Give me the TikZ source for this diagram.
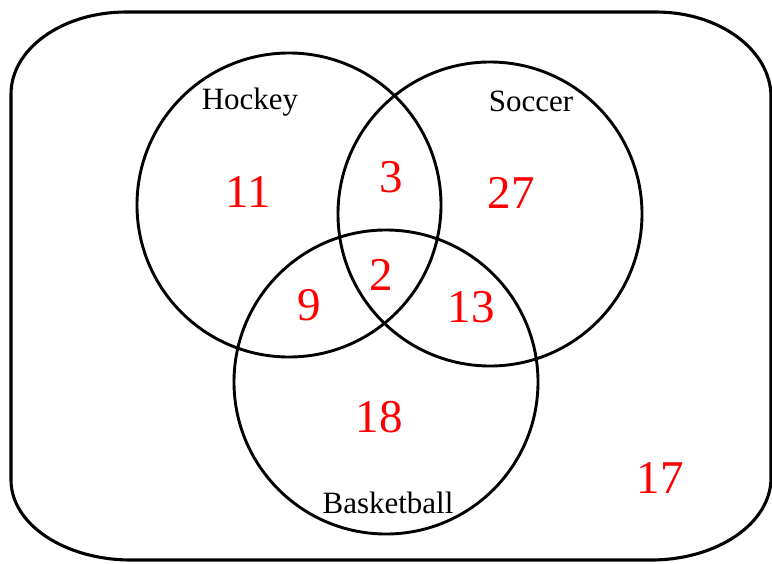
\documentclass[tikz,border=0pt]{standalone}
\usepackage{fontspec}
\setmainfont{Liberation Serif}
\usepackage{xcolor}
\usepackage{tikz}

\begin{document}
\begin{tikzpicture}[
      x=1pt,y=-1pt,
      outline/.style={line width=3.1pt},
      ring/.style={line width=2.9pt},
      setname/.style={font=\fontsize{31}{31}\selectfont,anchor=base,inner sep=0pt},
      count/.style={font=\fontsize{47}{47}\selectfont,text=red,anchor=base,inner sep=0pt}
    ]
      \useasboundingbox (0,0) rectangle (772,563);

      % universe
      \draw[outline] (126,12) -- (656,12)
        arc[start angle=-90,end angle=0,x radius=115,y radius=85] -- (771,478)
        arc[start angle=0,end angle=90,x radius=120,y radius=82] -- (131,560)
        arc[start angle=90,end angle=180,x radius=120,y radius=80] -- (11,94)
        arc[start angle=180,end angle=270,x radius=115,y radius=82] -- cycle;

      % the three sets
      \coordinate (hockeyc) at (289,205);
      \coordinate (soccerc) at (490,214);
      \coordinate (basketc) at (386,382);
      \draw[ring] (hockeyc) circle[radius=152];
      \draw[ring] (soccerc) circle[radius=152];
      \draw[ring] (basketc) circle[radius=152];

      \node[setname] (hockey) at (250,109) {Hockey};
      \node[setname] (soccer) at (531,111) {Soccer};
      \node[setname] (basket) at (388,513) {Basketball};

      \node[count] (onlyh) at (248,207) {11};
      \node[count] (hs) at (391,192) {3};
      \node[count] (onlys) at (511,208) {27};
      \node[count] (hsb) at (381,290) {2};
      \node[count] (hb) at (309,320) {9};
      \node[count] (sb) at (471,322) {13};
      \node[count] (onlyb) at (379,432) {18};
      \node[count] (none) at (660,493) {17};
    \end{tikzpicture}
\end{document}
